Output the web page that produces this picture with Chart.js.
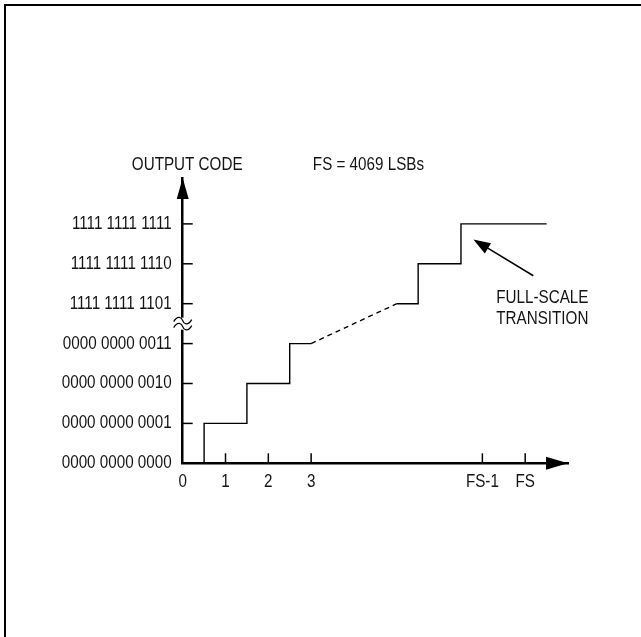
<!DOCTYPE html>
<html>
<head>
<meta charset="utf-8">
<script src="https://cdn.jsdelivr.net/npm/chart.js@4"></script>
<style>
  html, body { margin: 0; padding: 0; background: #fff; }
  #wrap { position: relative; width: 641px; height: 637px; }
  #frame { position: absolute; left: 4px; top: 4px; right: 0; bottom: 0; border-top: 2px solid #000; border-left: 2px solid #000; pointer-events: none; }
  canvas { position: absolute; left: 0; top: 0; }
</style>
</head>
<body>
<div id="wrap">
  <canvas id="c" width="641" height="637"></canvas>
  <div id="frame"></div>
</div>
<script>
// ---- data ----
const yCodeLabels = ['0000 0000 0000','0000 0000 0001','0000 0000 0010','0000 0000 0011','1111 1111 1101','1111 1111 1110','1111 1111 1111'];
const yTickValues = [0,1,2,3,4,5,6];
const xTickValues = [0,1,2,3,7,8];
const xTickLabels = ['0','1','2','3','FS-1','FS'];
const stepLowX  = [0.5,0.5,1.5,1.5,2.5,2.5,3.0];
const stepLowY  = [0,1,1,2,2,3,3];
const dashX     = [3.0,5.0];
const dashY     = [3,4];
const stepHighX = [5.0,5.5,5.5,6.5,6.5,8.5];
const stepHighY = [4,4,5,5,6,6];
const yTitle = 'OUTPUT CODE';
const fsNote = 'FS = 4069 LSBs';
const noteLines = ['FULL-SCALE','TRANSITION'];

const FONT = "'Liberation Sans Narrow','Arial Narrow','Liberation Sans',Arial,sans-serif";
const INK = '#161314';
const CONDENSE = 0.845;
const zip = (xs, ys) => xs.map((x, i) => ({x: x, y: ys[i]}));

// condensed text rendering (narrow-face look) for all canvas text
const canvas = document.getElementById('c');
const c2d = canvas.getContext('2d');
const origFill = c2d.fillText.bind(c2d);
c2d.fillText = function (t, x, y, mw) {
  this.save();
  this.translate(x, y);
  this.scale(CONDENSE, 1);
  if (mw === undefined) origFill(t, 0, 0); else origFill(t, 0, 0, mw / CONDENSE);
  this.restore();
};

function arrowHead(ctx, tx, ty, angle, len, w) {
  ctx.save();
  ctx.translate(tx, ty);
  ctx.rotate(angle);
  ctx.beginPath();
  ctx.moveTo(0, 0);
  ctx.lineTo(-len, -w / 2);
  ctx.lineTo(-len, w / 2);
  ctx.closePath();
  ctx.fill();
  ctx.restore();
}

const decor = {
  id: 'decor',
  afterDraw(chart) {
    const ctx = chart.ctx;
    const xs = chart.scales.x, ys = chart.scales.y;
    const a = chart.chartArea;
    ctx.save();
    ctx.strokeStyle = '#000';
    ctx.fillStyle = '#000';
    ctx.lineWidth = 1.5;
    // inward tick marks
    yTickValues.slice(1).forEach(v => {
      const py = ys.getPixelForValue(v);
      ctx.beginPath(); ctx.moveTo(a.left, py); ctx.lineTo(a.left + 10, py); ctx.stroke();
    });
    xTickValues.slice(1).forEach(v => {
      const px = xs.getPixelForValue(v);
      ctx.beginPath(); ctx.moveTo(px, a.bottom); ctx.lineTo(px, a.bottom - 10); ctx.stroke();
    });
    // axis arrowheads
    arrowHead(ctx, a.left, a.top, -Math.PI / 2, 21, 12);
    arrowHead(ctx, a.right, a.bottom, 0, 22, 13);
    // axis break symbol
    const by = ys.getPixelForValue(3.5);
    const bx = a.left;
    ctx.fillStyle = '#fff';
    ctx.fillRect(bx - 9, by - 6, 18, 12);
    ctx.lineWidth = 1.3;
    [-3, 3].forEach(off => {
      const y0 = by + off;
      ctx.beginPath();
      ctx.moveTo(bx - 9, y0 + 1);
      ctx.bezierCurveTo(bx - 5, y0 - 6, bx - 1, y0 - 3, bx, y0);
      ctx.bezierCurveTo(bx + 1, y0 + 3, bx + 5, y0 + 6, bx + 9, y0 - 1);
      ctx.stroke();
    });
    // full-scale transition arrow
    ctx.fillStyle = '#000';
    ctx.lineWidth = 1.5;
    const tipX = xs.getPixelForValue(6.79), tipY = ys.getPixelForValue(5.61);
    const tailX = xs.getPixelForValue(8.19), tailY = ys.getPixelForValue(4.70);
    const ang = Math.atan2(tipY - tailY, tipX - tailX);
    ctx.beginPath(); ctx.moveTo(tailX, tailY);
    ctx.lineTo(tipX - Math.cos(ang) * 12, tipY - Math.sin(ang) * 12); ctx.stroke();
    arrowHead(ctx, tipX, tipY, ang, 17, 12);
    // texts
    ctx.fillStyle = INK;
    ctx.font = '18px ' + FONT;
    ctx.textBaseline = 'middle';
    ctx.textAlign = 'center';
    ctx.fillText(yTitle, a.left + 4.5, 165);
    const nx = xs.getPixelForValue(8.4);
    ctx.fillText(noteLines[0], nx, ys.getPixelForValue(4.15));
    ctx.fillText(noteLines[1], nx, ys.getPixelForValue(3.61));
    ctx.textAlign = 'left';
    ctx.fillText(fsNote, xs.getPixelForValue(3.04), 165);
    ctx.restore();
  }
};

new Chart(canvas, {
  type: 'line',
  data: {
    datasets: [
      { data: zip(stepLowX, stepLowY), borderColor: '#000', borderWidth: 1.4, pointRadius: 0, tension: 0, fill: false },
      { data: zip(dashX, dashY), borderColor: '#000', borderWidth: 1.4, borderDash: [5, 4], pointRadius: 0, tension: 0, fill: false },
      { data: zip(stepHighX, stepHighY), borderColor: '#000', borderWidth: 1.4, pointRadius: 0, tension: 0, fill: false }
    ]
  },
  options: {
    responsive: false,
    animation: false,
    devicePixelRatio: 1,
    layout: { padding: { top: 178, right: 73, bottom: 0, left: 0 } },
    plugins: { legend: { display: false }, tooltip: { enabled: false } },
    scales: {
      x: {
        type: 'linear', min: 0, max: 9,
        grid: { display: false },
        border: { display: true, color: '#000', width: 2.5 },
        afterBuildTicks: s => { s.ticks = xTickValues.map(v => ({ value: v })); },
        afterFit: s => { s.height = 173.7; },
        ticks: {
          autoSkip: false, maxRotation: 0, padding: 0, color: INK,
          font: { family: FONT, size: 18 },
          callback: v => xTickLabels[xTickValues.indexOf(v)]
        }
      },
      y: {
        type: 'linear', min: 0, max: 7.15,
        grid: { display: false },
        border: { display: true, color: '#000', width: 2.5 },
        afterBuildTicks: s => { s.ticks = yTickValues.map(v => ({ value: v })); },
        afterFit: s => { s.width = 182.7; },
        ticks: {
          autoSkip: false, padding: 3, color: INK,
          font: { family: FONT, size: 18 },
          callback: v => yCodeLabels[yTickValues.indexOf(v)]
        }
      }
    }
  },
  plugins: [decor]
});
</script>
</body>
</html>
